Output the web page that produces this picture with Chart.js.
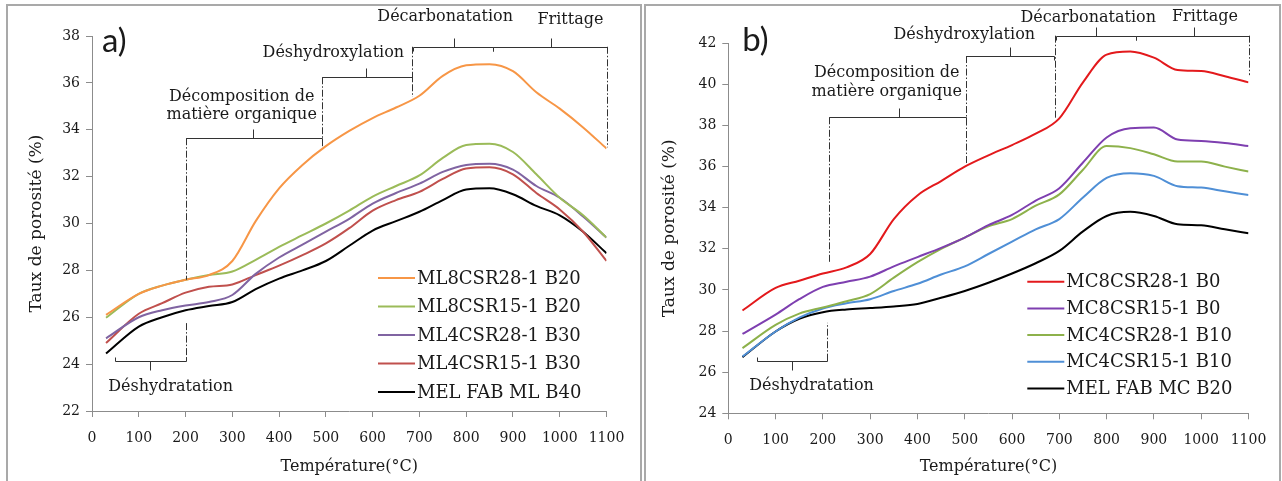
<!DOCTYPE html>
<html lang="fr">
<head>
  <meta charset="UTF-8">
  <title>Taux de porosité</title>
  <script src="https://cdn.jsdelivr.net/npm/chart.js"></script>
  <style>
    body { margin: 0; background: #fff; width: 1282px; height: 481px; overflow: hidden; position: relative; }
    canvas { position: absolute; top: 0; }
    #chartA { left: 0; }
    #chartB { left: 643px; }
    .frame { position: absolute; top: 4px; height: 490px; border: 2px solid #a9a9a9; box-sizing: border-box; pointer-events: none; }
  </style>
</head>
<body>
  <canvas id="chartA" width="641" height="481"></canvas>
  <canvas id="chartB" width="639" height="481"></canvas>
  <div class="frame" style="left:6px;width:636px"></div>
  <div class="frame" style="left:644px;width:637px"></div>

  <script>
    // Temperatures (°C) where the curves were read
    const temps = [30, 100, 150, 200, 250, 300, 350, 400, 450, 500, 550, 600, 650, 700, 750, 800, 850, 900, 950, 1000, 1050, 1100];

    // a) porosity (%)
    const labelsA = ['ML8CSR28-1 B20', 'ML8CSR15-1 B20', 'ML4CSR28-1 B30', 'ML4CSR15-1 B30', 'MEL FAB ML B40'];
    const ml8csr28 = [26.1, 27.0, 27.35, 27.6, 27.8, 28.4, 30.1, 31.5, 32.5, 33.3, 33.95, 34.5, 34.95, 35.45, 36.3, 36.75, 36.8, 36.5, 35.6, 34.9, 34.1, 33.2];
    const ml8csr15 = [25.98, 27.0, 27.35, 27.6, 27.8, 27.95, 28.45, 29.0, 29.5, 30.0, 30.55, 31.15, 31.6, 32.05, 32.8, 33.35, 33.4, 33.05, 32.1, 31.1, 30.35, 29.4];
    const ml4csr28 = [25.1, 26.0, 26.3, 26.5, 26.65, 26.95, 27.85, 28.55, 29.1, 29.65, 30.2, 30.85, 31.3, 31.7, 32.2, 32.5, 32.55, 32.3, 31.6, 31.1, 30.3, 29.4];
    const ml4csr15 = [24.9, 26.15, 26.6, 27.05, 27.3, 27.4, 27.8, 28.2, 28.65, 29.15, 29.8, 30.55, 31.0, 31.35, 31.9, 32.35, 32.4, 32.1, 31.3, 30.6, 29.65, 28.4];
    const melFabMl = [24.45, 25.6, 26.0, 26.3, 26.48, 26.65, 27.2, 27.65, 28.0, 28.4, 29.05, 29.7, 30.1, 30.5, 31.0, 31.45, 31.5, 31.25, 30.75, 30.35, 29.65, 28.73];

    // b) porosity (%)
    const labelsB = ['MC8CSR28-1 B0', 'MC8CSR15-1 B0', 'MC4CSR28-1 B10', 'MC4CSR15-1 B10', 'MEL FAB MC B20'];
    const mc8csr28 = [29.0, 30.1, 30.45, 30.8, 31.1, 31.75, 33.45, 34.6, 35.3, 36.0, 36.55, 37.05, 37.6, 38.35, 40.1, 41.45, 41.6, 41.3, 40.7, 40.65, 40.4, 40.1];
    const mc8csr15 = [27.86, 28.8, 29.55, 30.15, 30.4, 30.65, 31.15, 31.6, 32.05, 32.55, 33.15, 33.65, 34.35, 34.95, 36.2, 37.42, 37.87, 37.9, 37.32, 37.25, 37.15, 37.0];
    const mc4csr28 = [27.17, 28.3, 28.85, 29.15, 29.45, 29.8, 30.6, 31.35, 32.0, 32.55, 33.1, 33.45, 34.1, 34.65, 35.85, 37.0, 36.9, 36.6, 36.25, 36.25, 36.0, 35.76];
    const mc4csr15 = [26.76, 27.98, 28.65, 29.1, 29.35, 29.55, 29.95, 30.3, 30.75, 31.15, 31.75, 32.35, 32.95, 33.45, 34.5, 35.45, 35.68, 35.55, 35.05, 34.98, 34.8, 34.62];
    const melFabMc = [26.73, 27.98, 28.6, 28.92, 29.05, 29.12, 29.2, 29.32, 29.62, 29.95, 30.35, 30.8, 31.3, 31.9, 32.85, 33.6, 33.8, 33.6, 33.2, 33.15, 32.95, 32.76];

    const colorsA = ['#f79646', '#9bbb59', '#8064a2', '#c0504d', '#000000'];
    const colorsB = ['#e3191c', '#7e3fb0', '#8db14b', '#4f8fd6', '#000000'];

    // phase brackets and dash-dot guides, in data units
    const phasesA = {
      brackets: [
        { from: 50, to: 200, mid: 125, y: 24.15, up: false },
        { from: 200, to: 491, mid: 344, y: 33.64, up: true },
        { from: 491, to: 684, mid: 586, y: 36.24, up: true },
        { from: 686, to: 858, mid: 773, y: 37.54, up: true },
        { from: 858, to: 1100, mid: 981, y: 37.54, up: true }
      ],
      guides: [
        { x: 200, from: 33.64, to: 27.6 },
        { x: 200, from: 25.75, to: 24.15 },
        { x: 491, from: 36.24, to: 33.3 },
        { x: 685, from: 37.54, to: 35.4 },
        { x: 1100, from: 37.54, to: 33.25 }
      ],
      texts: [
        { text: 'Déshydratation', x: 168, y: 23.03 },
        { text: 'Décomposition de', x: 320, y: 35.41 },
        { text: 'matière organique', x: 320, y: 34.63 },
        { text: 'Déshydroxylation', x: 516, y: 37.27 },
        { text: 'Décarbonatation', x: 755, y: 38.81 },
        { text: 'Frittage', x: 1023, y: 38.68 }
      ]
    };
    const phasesB = {
      brackets: [
        { from: 60, to: 208, mid: 134, y: 26.56, up: false },
        { from: 213, to: 503, mid: 360, y: 38.4, up: true },
        { from: 503, to: 689, mid: 596, y: 41.38, up: true },
        { from: 692, to: 862, mid: 778, y: 42.37, up: true },
        { from: 862, to: 1100, mid: 985, y: 42.37, up: true }
      ],
      guides: [
        { x: 208, from: 26.56, to: 28.4 },
        { x: 213, from: 38.4, to: 31.3 },
        { x: 503, from: 41.38, to: 36.15 },
        { x: 691, from: 42.37, to: 38.3 },
        { x: 1100, from: 42.37, to: 40.45 }
      ],
      texts: [
        { text: 'Déshydratation', x: 176, y: 25.33 },
        { text: 'Décomposition de', x: 335, y: 40.54 },
        { text: 'matière organique', x: 335, y: 39.65 },
        { text: 'Déshydroxylation', x: 499, y: 42.4 },
        { text: 'Décarbonatation', x: 761, y: 43.23 },
        { text: 'Frittage', x: 1008, y: 43.28 }
      ]
    };

    Chart.defaults.font.family = '"DejaVu Serif", serif';
    Chart.defaults.color = '#1a1a1a';

    // brackets, phase names, legend and panel letter
    function overlay(o) {
      return {
        id: 'overlay',
        afterDatasetsDraw(chart) {
          const { ctx, chartArea } = chart;
          const x = chart.scales.x, y = chart.scales.y;
          ctx.save();
          ctx.strokeStyle = '#333';
          ctx.lineWidth = 1;

          ctx.setLineDash([7, 2, 1.5, 2]);
          o.phases.guides.forEach(g => {
            const px = Math.round(x.getPixelForValue(g.x)) + 0.5;
            ctx.beginPath();
            ctx.moveTo(px, y.getPixelForValue(g.from));
            ctx.lineTo(px, y.getPixelForValue(g.to));
            ctx.stroke();
          });
          ctx.setLineDash([]);

          o.phases.brackets.forEach(b => {
            const x0 = Math.round(x.getPixelForValue(b.from)) + 0.5;
            const x1 = Math.round(x.getPixelForValue(b.to)) + 0.5;
            const xm = Math.round(x.getPixelForValue(b.mid)) + 0.5;
            const py = Math.round(y.getPixelForValue(b.y)) + 0.5;
            const d = b.up ? -1 : 1;
            ctx.beginPath();
            ctx.moveTo(x0, py - d * 4);
            ctx.lineTo(x0, py);
            ctx.lineTo(x1, py);
            ctx.lineTo(x1, py - d * 4);
            ctx.moveTo(xm, py);
            ctx.lineTo(xm, py + d * 9);
            ctx.stroke();
          });

          ctx.fillStyle = '#1a1a1a';
          ctx.font = '16px "DejaVu Serif"';
          ctx.textAlign = 'center';
          ctx.textBaseline = 'middle';
          o.phases.texts.forEach(t => {
            ctx.fillText(t.text, x.getPixelForValue(t.x), y.getPixelForValue(t.y));
          });

          // legend inside the plot
          ctx.font = '18px "DejaVu Serif"';
          ctx.textAlign = 'left';
          chart.data.datasets.forEach((ds, i) => {
            const ly = chartArea.top + o.legendTop + i * o.legendStep;
            ctx.strokeStyle = ds.borderColor;
            ctx.lineWidth = 2;
            ctx.beginPath();
            ctx.moveTo(chartArea.left + o.legendX, ly);
            ctx.lineTo(chartArea.left + o.legendX + 37, ly);
            ctx.stroke();
            ctx.fillText(ds.label, chartArea.left + o.legendX + 39, ly + 1);
          });

          ctx.font = '33px Lato';
          ctx.fillText(o.letter, chartArea.left + o.letterX, chartArea.top + o.letterY);
          ctx.restore();
        }
      };
    }

    function makeChart(id, o) {
      return new Chart(document.getElementById(id), {
        type: 'line',
        data: {
          datasets: o.series.map((s, i) => ({
            label: o.labels[i],
            data: temps.map((t, k) => ({ x: t, y: s[k] })),
            borderColor: o.colors[i],
            borderWidth: 2,
            pointRadius: 0,
            cubicInterpolationMode: 'monotone',
            fill: false
          }))
        },
        options: {
          responsive: false,
          animation: false,
          layout: { padding: { top: o.top, right: o.right, left: 0, bottom: 0 } },
          plugins: { legend: { display: false }, tooltip: { enabled: false } },
          scales: {
            x: {
              type: 'linear', min: 0, max: 1100,
              ticks: { stepSize: 100, padding: 13, font: { size: 14 }, callback: v => v },
              grid: { drawOnChartArea: false, tickLength: 6, color: '#8c8c8c' },
              border: { color: '#8c8c8c' },
              title: { display: true, text: 'Température(°C)', font: { size: 16 }, padding: { top: 0, bottom: 5 } },
              afterFit: s => { s.height = o.xHeight; }
            },
            y: {
              min: o.ymin, max: o.ymax,
              ticks: { stepSize: 2, padding: 6, font: { size: 14 } },
              grid: { drawOnChartArea: false, tickLength: 6, color: '#8c8c8c' },
              border: { color: '#8c8c8c' },
              title: { display: true, text: 'Taux de porosité (%)', font: { size: 17 }, padding: { top: o.yTitlePad, bottom: 0 } },
              afterFit: s => { s.width = o.yWidth; }
            }
          }
        },
        plugins: [overlay(o)]
      });
    }

    makeChart('chartA', {
      series: [ml8csr28, ml8csr15, ml4csr28, ml4csr15, melFabMl],
      labels: labelsA, colors: colorsA, phases: phasesA,
      ymin: 22, ymax: 38,
      top: 36, right: 34.5, xHeight: 70, yWidth: 92, yTitlePad: 26.8,
      legendX: 286, legendTop: 242, legendStep: 28.5,
      letter: 'a)', letterX: 10, letterY: 5
    });

    makeChart('chartB', {
      series: [mc8csr28, mc8csr15, mc4csr28, mc4csr15, melFabMc],
      labels: labelsB, colors: colorsB, phases: phasesB,
      ymin: 24, ymax: 42,
      top: 43.3, right: 33.5, xHeight: 67.7, yWidth: 85.3, yTitlePad: 16.8,
      legendX: 299, legendTop: 238.4, legendStep: 26.7,
      letter: 'b)', letterX: 14, letterY: -3
    });
  </script>
</body>
</html>
